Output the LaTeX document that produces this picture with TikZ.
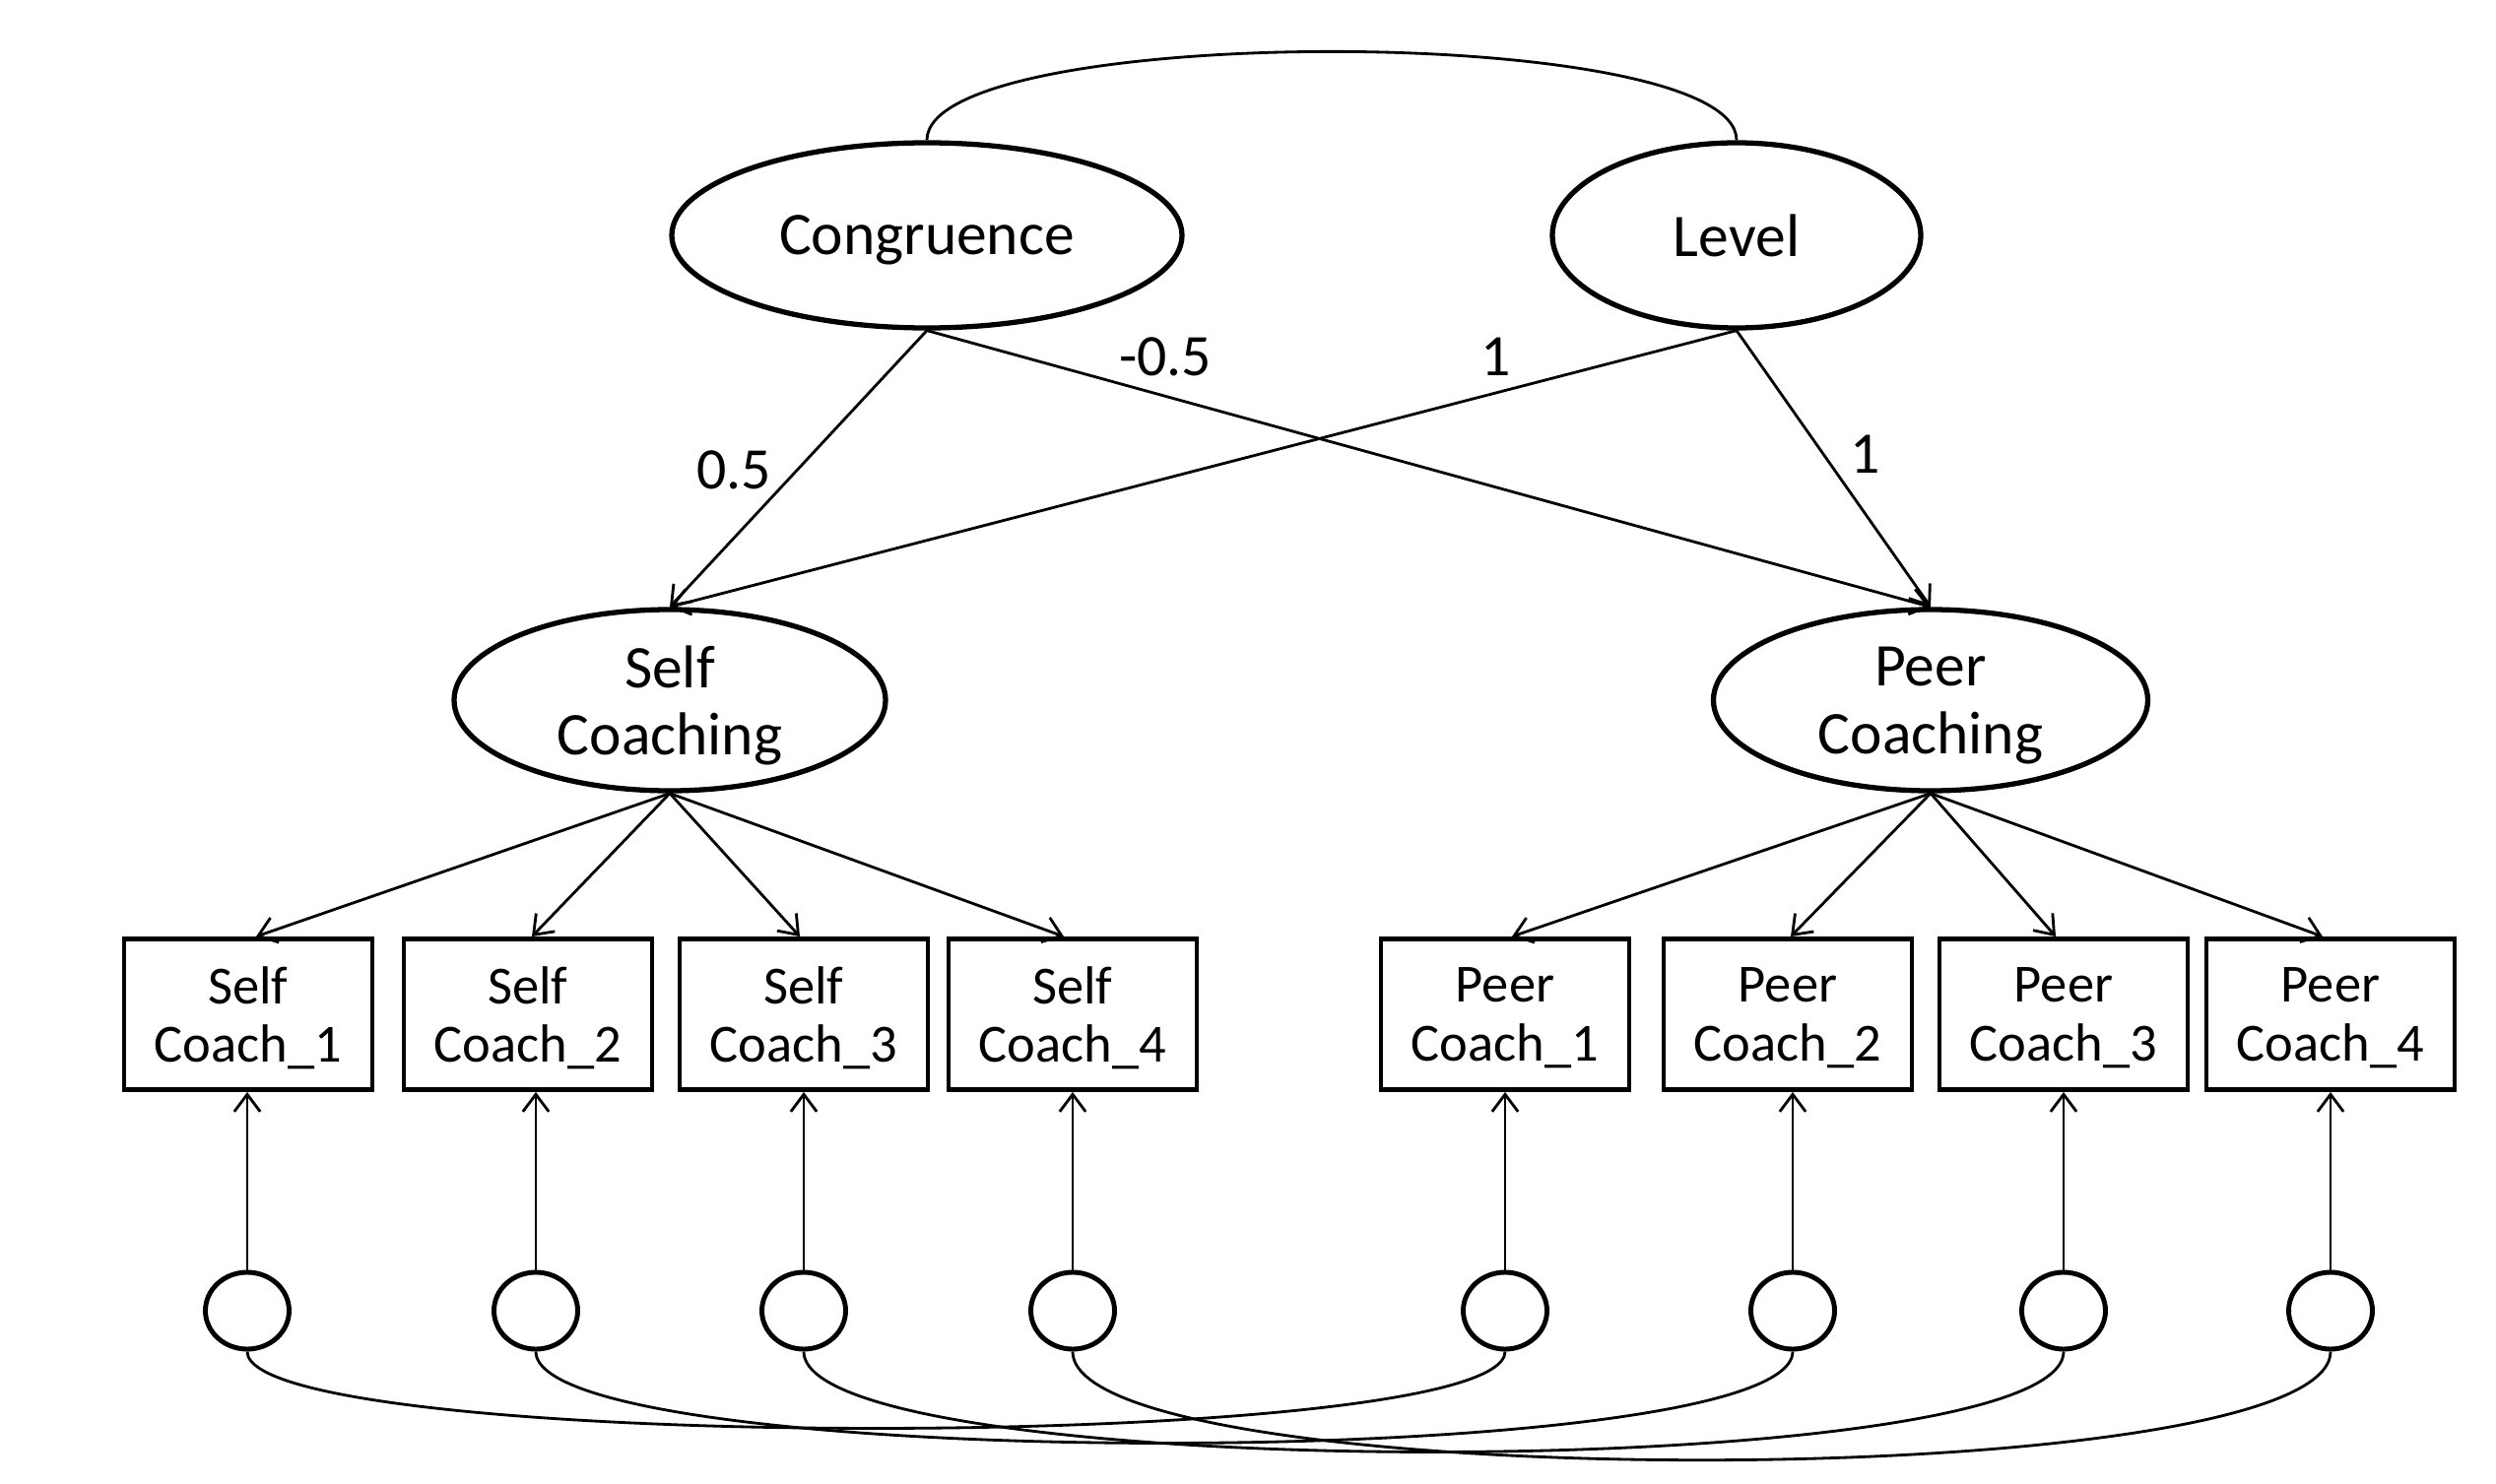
\documentclass[tikz,border=0pt]{standalone}
\usepackage{fontspec}
\setmainfont{Carlito}
\usetikzlibrary{shapes.geometric,arrows.meta}
\tikzset{
  latent/.style={draw, line width=1.5pt, ellipse, inner sep=0pt, align=center,
    text depth=0pt, font=\fontsize{17.5}{19.5}\selectfont},
  indicator/.style={draw, line width=1.4pt, rectangle, inner sep=0pt,
    minimum width=2.52cm, minimum height=1.53cm, align=center,
    text depth=0pt, font=\fontsize{15.5}{17}\selectfont},
  errterm/.style={draw, line width=1.4pt, ellipse, inner sep=0pt,
    minimum width=0.85cm, minimum height=0.78cm},
  path/.style={line width=0.8pt, -{Straight Barb[length=5pt,width=7.5pt]}},
  cov/.style={line width=0.8pt},
  coef/.style={inner sep=0pt, font=\fontsize{17}{19}\selectfont}
}
\begin{document}
\begin{tikzpicture}
			%%%%% START %%%%%
			\useasboundingbox (0, 0) rectangle (25.34, -15.07);
			
			% factors
			\node[latent, minimum width=5.18cm, minimum height=1.88cm] (cong) at (9.41, -2.39) {Congruence};
			\node[latent, minimum width=3.74cm, minimum height=1.88cm] (lev) at (17.63, -2.39) {Level};
			\draw[cov] (cong.north) .. controls +(0, 1.20) and +(0, 1.20) .. (lev.north);
			
			\node[latent, minimum width=4.38cm, minimum height=1.84cm] (selfc) at (6.80, -7.11) {Self\\Coaching};
			\node[latent, minimum width=4.41cm, minimum height=1.84cm] (peerc) at (19.60, -7.11) {Peer\\Coaching};
			
			\draw[path] (cong.south) -- (selfc.north);
			\draw[path] (cong.south) -- (peerc.north);
			\draw[path] (lev.south) -- (selfc.north);
			\draw[path] (lev.south) -- (peerc.north);
			
			\node[coef] (cs) at (7.45, -4.77) {0.5};
			\node[coef] (cp) at (11.83, -3.62) {-0.5};
			\node[coef] (ls) at (15.19, -3.62) {1};
			\node[coef] (lp) at (18.94, -4.61) {1};
			
			% indicators
			\node[indicator] (s1) at (2.52, -10.30) {Self\\Coach\_1};
			\node[indicator] (s2) at (5.36, -10.30) {Self\\Coach\_2};
			\node[indicator] (s3) at (8.16, -10.30) {Self\\Coach\_3};
			\node[indicator] (s4) at (10.89, -10.30) {Self\\Coach\_4};
			\node[indicator] (p1) at (15.28, -10.30) {Peer\\Coach\_1};
			\node[indicator] (p2) at (18.15, -10.30) {Peer\\Coach\_2};
			\node[indicator] (p3) at (20.95, -10.30) {Peer\\Coach\_3};
			\node[indicator] (p4) at (23.66, -10.30) {Peer\\Coach\_4};
			
			\draw[path] (selfc.south) -- ([xshift=0.08cm]s1.north);
			\draw[path] (selfc.south) -- ([xshift=0.04cm]s2.north);
			\draw[path] (selfc.south) -- ([xshift=-0.04cm]s3.north);
			\draw[path] (selfc.south) -- ([xshift=-0.09cm]s4.north);
			\draw[path] (peerc.south) -- ([xshift=0.07cm]p1.north);
			\draw[path] (peerc.south) -- ([xshift=0.03cm]p2.north);
			\draw[path] (peerc.south) -- ([xshift=-0.08cm]p3.north);
			\draw[path] (peerc.south) -- ([xshift=-0.08cm]p4.north);
			
			% errors
			\node[errterm] (es1) at (2.51, -13.31) {};
			\node[errterm] (es2) at (5.44, -13.31) {};
			\node[errterm] (es3) at (8.16, -13.31) {};
			\node[errterm] (es4) at (10.89, -13.31) {};
			\node[errterm] (ep1) at (15.28, -13.31) {};
			\node[errterm] (ep2) at (18.20, -13.31) {};
			\node[errterm] (ep3) at (20.95, -13.31) {};
			\node[errterm] (ep4) at (23.66, -13.31) {};
			
			\draw[path] (es1.north) -- (es1.north |- s1.south);
			\draw[path] (es2.north) -- (es2.north |- s2.south);
			\draw[path] (es3.north) -- (es3.north |- s3.south);
			\draw[path] (es4.north) -- (es4.north |- s4.south);
			\draw[path] (ep1.north) -- (ep1.north |- p1.south);
			\draw[path] (ep2.north) -- (ep2.north |- p2.south);
			\draw[path] (ep3.north) -- (ep3.north |- p3.south);
			\draw[path] (ep4.north) -- (ep4.north |- p4.south);
			
			% error covariances
			\draw[cov] (es1.south) .. controls +(0, -1.04) and +(0, -1.04) .. (ep1.south);
			\draw[cov] (es2.south) .. controls +(0, -1.24) and +(0, -1.24) .. (ep2.south);
			\draw[cov] (es3.south) .. controls +(0, -1.36) and +(0, -1.36) .. (ep3.south);
			\draw[cov] (es4.south) .. controls +(0, -1.47) and +(0, -1.47) .. (ep4.south);
			
			%%%%% END %%%%%
		\end{tikzpicture}
\end{document}
